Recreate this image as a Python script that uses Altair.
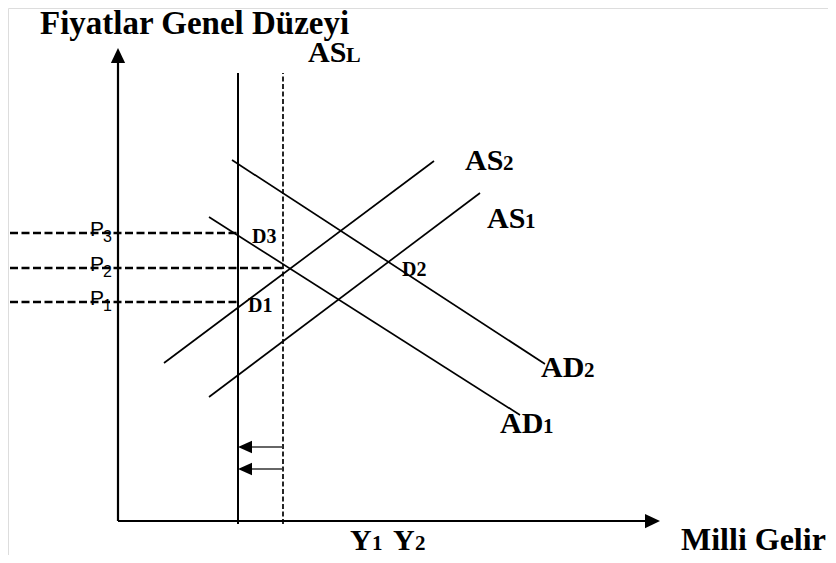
import altair as alt
import pandas as pd

# ---- model units: x = Milli Gelir, y = Fiyatlar Genel Düzeyi (origin at axis corner) ----
# supply / demand curves
curve_names = ["AS2", "AS1", "AD2", "AD1"]
curve_x1 = [46, 91, 114, 91]
curve_y1 = [158, 124, 361, 304]
curve_x2 = [316, 362, 427, 402]
curve_y2 = [360, 328, 157, 106]

# long-run supply (vertical) lines
asl_x = [120, 165]          # Y1 (solid), Y2 (dashed)
asl_bottom = -3
asl_top = 448

# price levels P1, P2, P3 and where their dashed guides end
p_names = ["P1", "P2", "P3"]
p_levels = [219, 253, 288]
p_end_x = [120, 165, 120]
p_start_x = -108

# leftward shift arrows
shift_y = [74, 52]
shift_from = 165
shift_to = 120

# axes
x_axis_end = 542
y_axis_end = 473

# text labels: (text, x, y, size, font, weight)
labels = [
    ("Fiyatlar Genel Düzeyi", -78, 487, 33, "Liberation Serif", "bold"),
    ("AS", 190, 459, 30, "Liberation Serif", "bold"),
    ("L", 228, 459, 22, "Liberation Serif", "bold"),
    ("AS", 347, 351, 30, "Liberation Serif", "bold"),
    ("2", 385, 351, 21, "Liberation Serif", "bold"),
    ("AS", 369, 293, 30, "Liberation Serif", "bold"),
    ("1", 407, 293, 21, "Liberation Serif", "bold"),
    ("AD", 423, 144, 30, "Liberation Serif", "bold"),
    ("2", 466, 144, 21, "Liberation Serif", "bold"),
    ("AD", 382, 88, 30, "Liberation Serif", "bold"),
    ("1", 425, 88, 21, "Liberation Serif", "bold"),
    ("D3", 134, 278, 20, "Liberation Serif", "bold"),
    ("D1", 130, 209, 20, "Liberation Serif", "bold"),
    ("D2", 284, 245, 20, "Liberation Serif", "bold"),
    ("Y", 232, -29, 30, "Liberation Serif", "bold"),
    ("1", 254, -29, 21, "Liberation Serif", "bold"),
    ("Y", 275, -29, 30, "Liberation Serif", "bold"),
    ("2", 297, -29, 21, "Liberation Serif", "bold"),
    ("Milli Gelir", 563, -29, 32, "Liberation Serif", "bold"),
    ("P", -28, 285, 21, "Liberation Sans", "normal"),
    ("3", -15, 279, 16, "Liberation Sans", "normal"),
    ("P", -28, 250, 21, "Liberation Sans", "normal"),
    ("2", -15, 244, 16, "Liberation Sans", "normal"),
    ("P", -28, 216, 21, "Liberation Sans", "normal"),
    ("1", -15, 210, 16, "Liberation Sans", "normal"),
]

# ---- scales: 1 model unit = 1 px ----
X = alt.Scale(domain=[-110, 710], nice=False, zero=False)
Y = alt.Scale(domain=[-34, 513], nice=False, zero=False)
W, H = 820, 547


def xe(f):
    return alt.X(f, type="quantitative", scale=X, axis=None)


def ye(f):
    return alt.Y(f, type="quantitative", scale=Y, axis=None)


curves = pd.DataFrame({"name": curve_names, "x": curve_x1, "y": curve_y1,
                       "x2": curve_x2, "y2": curve_y2})
curve_layer = alt.Chart(curves).mark_rule(color="black", strokeWidth=1.7).encode(
    x=xe("x"), y=ye("y"), x2="x2", y2="y2")

axes = pd.DataFrame({"x": [0, 0], "y": [0, 0], "x2": [x_axis_end - 14, 0],
                     "y2": [0, y_axis_end - 14]})
axis_layer = alt.Chart(axes).mark_rule(color="black", strokeWidth=2.2).encode(
    x=xe("x"), y=ye("y"), x2="x2", y2="y2")

heads_up = alt.Chart(pd.DataFrame({"x": [0], "y": [y_axis_end]})).mark_point(
    shape="M0,0L-0.95,2L0.95,2Z", size=225, filled=True, color="black",
    opacity=1, strokeWidth=0).encode(x=xe("x"), y=ye("y"))
heads_right = alt.Chart(pd.DataFrame({"x": [x_axis_end], "y": [0]})).mark_point(
    shape="M0,0L-2,-0.95L-2,0.95Z", size=225, filled=True, color="black",
    opacity=1, strokeWidth=0).encode(x=xe("x"), y=ye("y"))

solid_v = alt.Chart(pd.DataFrame({"x": [asl_x[0]], "y": [asl_bottom], "y2": [asl_top]})
                    ).mark_rule(color="black", strokeWidth=2).encode(
    x=xe("x"), y=ye("y"), y2="y2")
dashed_v = alt.Chart(pd.DataFrame({"x": [asl_x[1]], "y": [asl_bottom], "y2": [asl_top]})
                     ).mark_rule(color="black", strokeWidth=1.7, strokeDash=[5, 2.5]).encode(
    x=xe("x"), y=ye("y"), y2="y2")

pdf = pd.DataFrame({"name": p_names, "y": p_levels, "x": [p_start_x] * 3, "x2": p_end_x})
p_layer = alt.Chart(pdf).mark_rule(color="black", strokeWidth=2.6, strokeDash=[8, 3.5]).encode(
    x=xe("x"), x2="x2", y=ye("y"))

sdf = pd.DataFrame({"y": shift_y, "x": [shift_from] * 2, "x2": [shift_to + 10] * 2,
                    "tip": [shift_to] * 2})
shift_line = alt.Chart(sdf).mark_rule(color="#333333", strokeWidth=1.4).encode(
    x=xe("x"), x2="x2", y=ye("y"))
shift_head = alt.Chart(sdf).mark_point(
    shape="M0,0L2,-0.9L2,0.9Z", size=196, filled=True, color="black",
    opacity=1, strokeWidth=0).encode(x=xe("tip"), y=ye("y"))

ldf = pd.DataFrame(labels, columns=["text", "x", "y", "size", "font", "weight"])
text_layers = []
for (font, weight, size), g in ldf.groupby(["font", "weight", "size"]):
    text_layers.append(
        alt.Chart(g).mark_text(align="left", baseline="alphabetic", font=font,
                               fontWeight=weight, fontSize=int(size), color="black").encode(
            x=xe("x"), y=ye("y"), text="text"))

chart = alt.layer(p_layer, curve_layer, solid_v, dashed_v, axis_layer, heads_up,
                  heads_right, shift_line, shift_head, *text_layers).properties(
    width=W, height=H, padding=0, autosize=alt.AutoSizeParams(type="none")
).configure_view(stroke=None).configure(background="white")

chart.save("out.html", embed_options={"renderer": "svg", "actions": False})
